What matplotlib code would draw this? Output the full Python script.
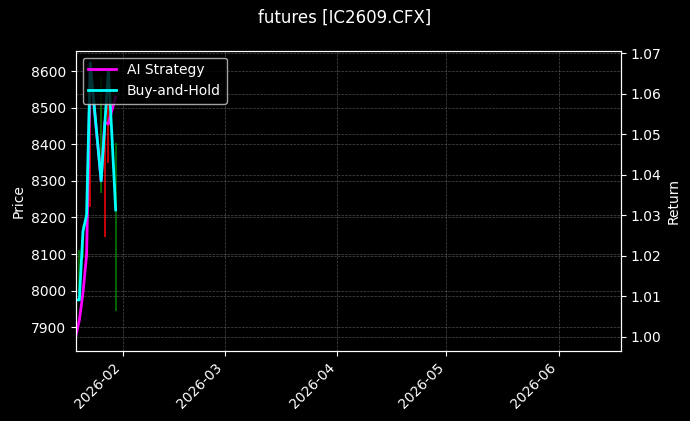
import matplotlib
matplotlib.use("Agg")
import matplotlib.pyplot as plt
import matplotlib.dates as mdates
import pandas as pd

# daily bars for the contract
dates = pd.to_datetime(["2026-01-19", "2026-01-20", "2026-01-21", "2026-01-22", "2026-01-23",
                        "2026-01-26", "2026-01-27", "2026-01-28", "2026-01-29", "2026-01-30"])
open_ = [7880, 8000, 8100, 8160, 8560, 8300, 8420, 8500, 8400, 8200]
high = [7960, 8111, 8180, 8215, 8600, 8584, 8447, 8521, 8440, 8404]
low = [7860, 7994, 8090, 8150, 8228, 8267, 8147, 8349, 8390, 7945]
close = [7950, 8100, 8160, 8200, 8450, 8500, 8200, 8380, 8420, 8380]

# cumulative returns
ai_strategy = [1.0000, 1.0041, 1.0108, 1.0202, 1.0670, 1.0385, 1.0530, 1.0525, 1.0560, 1.0592]
buy_and_hold = [1.0091, 1.0091, 1.0260, 1.0301, 1.0676, 1.0385, 1.0523, 1.0659, 1.0491, 1.0313]

x_start = pd.Timestamp("2026-01-19")
x_end = pd.Timestamp("2026-06-18")

plt.style.use("dark_background")
fig = plt.figure(figsize=(6.9, 4.21), dpi=100)
ax = fig.add_axes([0.1097, 0.1663, 0.790, 0.7133])

# candles as simple high-low lines
for d, o, h, l, c in zip(dates, open_, high, low, close):
    col = "green" if c >= o else "red"
    ax.vlines(d, l, h, color=col, linewidth=1.3, alpha=0.85)

ax.set_ylabel("Price")
ax.set_ylim(7835, 8656)
ax.set_xlim(x_start, x_end)
ax.grid(True, linestyle="--", linewidth=0.5, color="gray", alpha=0.6)

ax2 = ax.twinx()
ax2.plot(dates, ai_strategy, color="magenta", linewidth=2, label="AI Strategy")
ax2.plot(dates, buy_and_hold, color="cyan", linewidth=2, label="Buy-and-Hold")
ax2.set_ylabel("Return")
ax2.set_ylim(0.9965, 1.0706)
ax2.grid(True, axis="y", linestyle="--", linewidth=0.5, color="gray", alpha=0.6)
ax2.legend(loc="upper left")

ax.xaxis.set_major_locator(mdates.MonthLocator())
ax.xaxis.set_major_formatter(mdates.DateFormatter("%Y-%m"))
for lbl in ax.get_xticklabels():
    lbl.set_rotation(45)
    lbl.set_ha("right")

fig.suptitle("futures [IC2609.CFX]")
fig.savefig("out.png", dpi=100)
